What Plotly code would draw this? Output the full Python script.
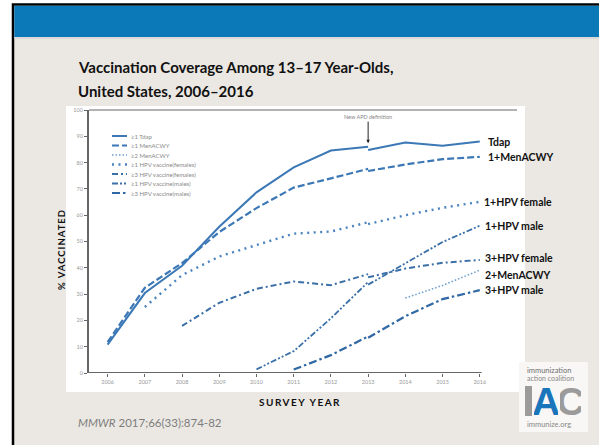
import plotly.graph_objects as go

# ---------------- data ----------------
years_pre = [2006, 2007, 2008, 2009, 2010, 2011, 2012, 2013]
years_post = [2013, 2014, 2015, 2016]

tdap_pre = [10.8, 30.4, 40.8, 55.6, 68.7, 78.2, 84.6, 86.0]
tdap_post = [84.8, 87.6, 86.4, 88.0]

men1_pre = [11.7, 32.4, 41.8, 53.6, 62.7, 70.5, 74.0, 77.6]
men1_post = [76.8, 79.3, 81.3, 82.2]

men2_years = [2014, 2015, 2016]
men2_vals = [28.5, 33.3, 39.1]

hpv1f_years_pre = [2007, 2008, 2009, 2010, 2011, 2012, 2013]
hpv1f_pre = [25.1, 37.2, 44.3, 48.7, 53.0, 53.8, 57.3]
hpv1f_post = [56.6, 60.0, 62.8, 65.1]

hpv3f_years_pre = [2008, 2009, 2010, 2011, 2012, 2013]
hpv3f_pre = [17.9, 26.7, 32.0, 34.8, 33.4, 37.6]
hpv3f_post = [36.4, 39.7, 41.9, 43.0]

hpv1m_years_pre = [2010, 2011, 2012, 2013]
hpv1m_pre = [1.4, 8.3, 20.8, 34.6]
hpv1m_post = [33.6, 41.7, 49.8, 56.0]

hpv3m_years_pre = [2011, 2012, 2013]
hpv3m_pre = [1.3, 6.8, 13.9]
hpv3m_post = [13.4, 21.6, 28.1, 31.5]

legend_names = ["≥1 Tdap", "≥1 MenACWY", "≥2 MenACWY", "≥1 HPV vaccine(females)",
                "≥3 HPV vaccine(females)", "≥1 HPV vaccine(males)", "≥3 HPV vaccine(males)"]
end_labels = ["Tdap", "1+MenACWY", "2+MenACWY", "1+HPV female",
              "3+HPV female", "1+HPV male", "3+HPV male"]
x_ticks = list(range(2006, 2017))
y_ticks = list(range(0, 101, 10))

# ---------------- styles ----------------
styles = [
    dict(color="#3b78b5", width=2.0, dash="solid"),
    dict(color="#3b78b5", width=2.2, dash="7px,3px"),
    dict(color="#6f9fd0", width=1.6, dash="1.5px,2px"),
    dict(color="#4a84c0", width=2.4, dash="2px,4.5px"),
    dict(color="#3a6fa8", width=2.0, dash="6px,3px,2px,3px"),
    dict(color="#3a6fa8", width=1.8, dash="6px,2px,2px,2px,2px,2px"),
    dict(color="#2f68a4", width=2.2, dash="8px,3px,2.5px,3px"),
]
label_shift = [(6, 0), (6, 0), (3, -5), (2, 0), (3, 2), (3, 0), (3, 0)]


def join(xa, ya, xb, yb):
    return xa + [None] + xb, ya + [None] + yb


series = [
    join(years_pre, tdap_pre, years_post, tdap_post),
    join(years_pre, men1_pre, years_post, men1_post),
    (men2_years, men2_vals),
    join(hpv1f_years_pre, hpv1f_pre, years_post, hpv1f_post),
    join(hpv3f_years_pre, hpv3f_pre, years_post, hpv3f_post),
    join(hpv1m_years_pre, hpv1m_pre, years_post, hpv1m_post),
    join(hpv3m_years_pre, hpv3m_pre, years_post, hpv3m_post),
]

W, H = 599, 445
L, R, T, B = 89, 517, 110, 373


def px(X):
    return (X - L) / (R - L)


def py(Y):
    return (B - Y) / (B - T)


FONT = "Lato, 'Open Sans', sans-serif"
LOGO_FONT = "'Liberation Sans', Arial, sans-serif"


def note(x, y, text, size, color, xanchor="center", yanchor="middle", family=FONT, **kw):
    return dict(xref="paper", yref="paper", x=px(x), y=py(y), xanchor=xanchor, yanchor=yanchor,
                text=text, showarrow=False, font=dict(family=family, size=size, color=color), **kw)


fig = go.Figure()
for (xs, ys), name, st in zip(series, legend_names, styles):
    fig.add_trace(go.Scatter(x=xs, y=ys, mode="lines", name=name, connectgaps=False,
                             line=dict(color=st["color"], width=st["width"], dash=st["dash"]),
                             showlegend=False, hoverinfo="skip"))


def prect(x0, x1, y0, y1, fill, line=None):
    return dict(type="rect", xref="paper", yref="paper", x0=px(x0), x1=px(x1), y0=py(y0), y1=py(y1),
                fillcolor=fill, line=line or dict(width=0), layer="below")


shapes = [
    prect(13, 605, 4.5, 450, "#ebe8e3", dict(color="#000", width=2.5)),   # slide + frame
    prect(14.3, 605, 5.8, 37, "#0b79b8"),                                  # blue banner
    prect(14.3, 605, 37, 39, "#dcdad6"),
    prect(66, 525, 106, 392, "#ffffff"),                                   # chart image
    prect(519, 588, 362, 432, "#f8f7f5"),                                  # logo background
    prect(525, 532, 386, 416, "#9b9b9b"),                                  # logo "I"
    dict(type="line", xref="paper", yref="paper", x0=0, x1=1, y0=1, y1=1,
         line=dict(color="#9a9a9a", width=1.5)),
    dict(type="line", xref="x", yref="y", x0=2005.5, x1=2016.05, y0=0, y1=0,
         line=dict(color="#666", width=2)),
]

annotations = []
# legend (manual, compact)
leg_y0, leg_dy = 136, 9.5
for i, (name, st) in enumerate(zip(legend_names, styles)):
    yy = leg_y0 + i * leg_dy
    shapes.append(dict(type="line", xref="paper", yref="paper", x0=px(112), x1=px(127), y0=py(yy), y1=py(yy),
                       line=dict(color=st["color"], width=st["width"], dash=st["dash"])))
    annotations.append(note(129, yy, name, 6, "#8a8a8a", xanchor="left"))

# end labels
end_vals = [tdap_post[-1], men1_post[-1], men2_vals[-1], hpv1f_post[-1], hpv3f_post[-1], hpv1m_post[-1], hpv3m_post[-1]]
for lab, v, (dx, dy) in zip(end_labels, end_vals, label_shift):
    annotations.append(dict(x=2016, y=v, xref="x", yref="y", xanchor="left", yanchor="middle", xshift=dx, yshift=dy,
                            text="<b>" + lab + "</b>", showarrow=False, font=dict(family=FONT, size=10.5, color="#111")))

# New APD definition arrow
annotations.append(dict(x=2013, y=87.4, xref="x", yref="y", ax=0, ay=-26, text="New APD definition",
                        showarrow=True, arrowhead=2, arrowsize=0.7, arrowwidth=1, arrowcolor="#222",
                        font=dict(family=FONT, size=5.5, color="#888")))

# title
annotations.append(note(76, 67, "<b>Vaccination Coverage Among 13–17 Year-Olds,</b>", 15, "#111", xanchor="left"))
annotations.append(note(76, 91, "<b>United States, 2006–2016</b>", 15, "#111", xanchor="left"))
# axis titles
annotations.append(note(61, 250, "<b><span style='letter-spacing:1px'>% VACCINATED</span></b>", 9.5, "#111",
                        textangle=-90))
annotations.append(note(300, 402, "<b><span style='letter-spacing:1.5px'>SURVEY YEAR</span></b>", 10, "#111"))
# source
annotations.append(note(76, 422, "<i>MMWR</i> 2017;66(33):874-82", 11.5, "#7d7d7d", xanchor="left"))
# logo
annotations.append(note(525, 370, "immunization", 7.5, "#6f6f6f", xanchor="left"))
annotations.append(note(525, 377.5, "action coalition", 7, "#888", xanchor="left"))
annotations.append(note(546, 401.5, "<b>A</b>", 39, "#1b75bb", family=LOGO_FONT, height=27, width=24, borderpad=0))
annotations.append(note(570, 401.5, "<b>C</b>", 39, "#9b9b9b", family=LOGO_FONT, height=27, width=21, borderpad=0))
annotations.append(note(525, 424, "immunize.org", 7.5, "#888", xanchor="left"))

fig.update_layout(
    width=W, height=H, autosize=False,
    margin=dict(l=L, r=W - R, t=T, b=H - B, pad=0),
    paper_bgcolor="#ffffff", plot_bgcolor="rgba(0,0,0,0)",
    shapes=shapes, annotations=annotations, showlegend=False,
    xaxis=dict(range=[2005.5, 2017], tickvals=x_ticks, ticktext=[str(t) for t in x_ticks], ticks="outside",
               ticklen=3, tickcolor="#666", tickwidth=1, showline=False, showgrid=False, zeroline=False,
               tickfont=dict(family=FONT, size=5.5, color="#999")),
    yaxis=dict(range=[0, 100], tickvals=y_ticks, ticks="outside", ticklen=3, tickcolor="#666", tickwidth=1,
               showline=True, linecolor="#666", linewidth=2, showgrid=False, zeroline=False,
               tickfont=dict(family=FONT, size=5.5, color="#999")),
)

fig.write_html("out.html")
